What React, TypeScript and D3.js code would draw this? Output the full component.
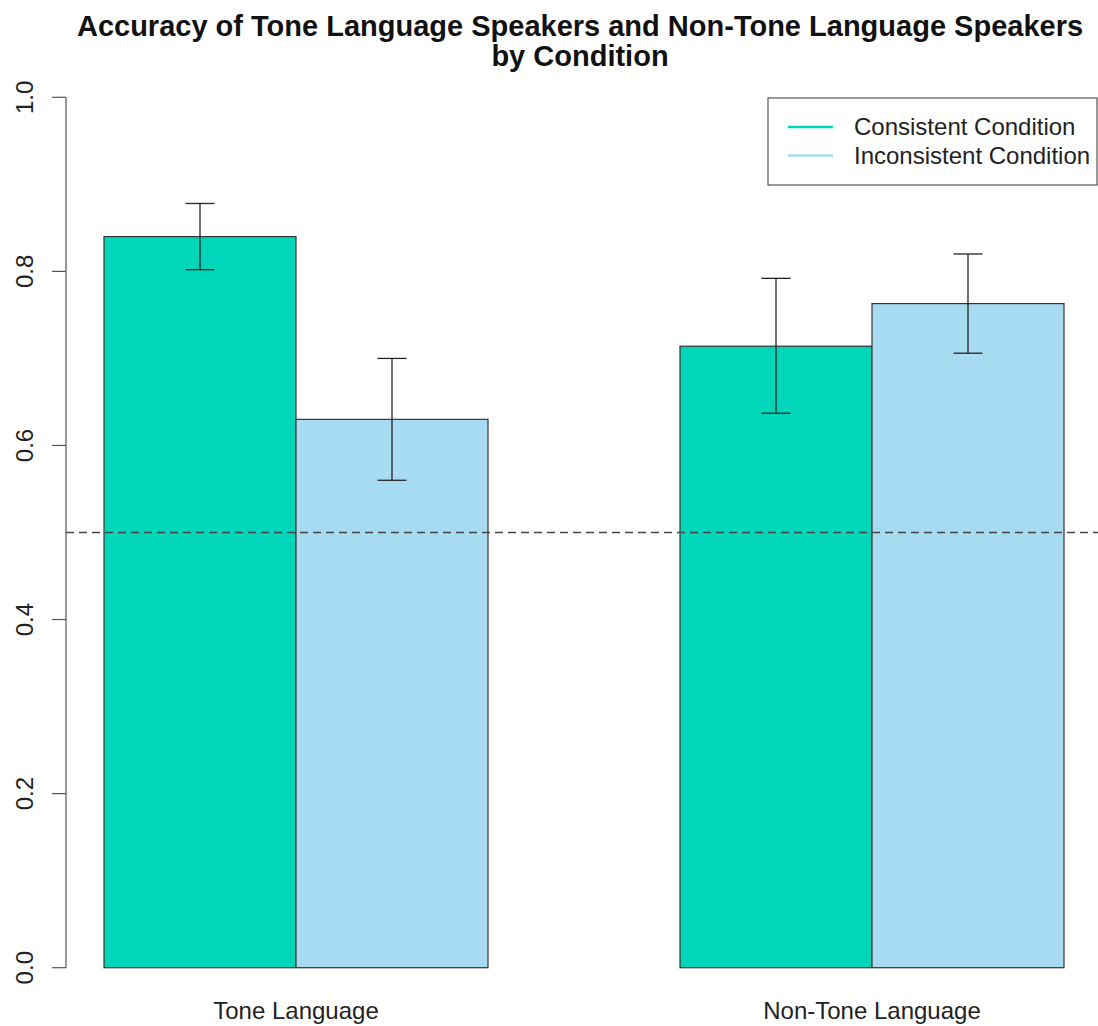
import React from "react";
import * as d3 from "d3";

const groups = ["Tone Language", "Non-Tone Language"];
const series = ["Consistent Condition", "Inconsistent Condition"];
const colors = ["#00D7BA", "#A7DBF1"];
const means = [
  [0.840, 0.630],
  [0.714, 0.763],
];
const lower = [
  [0.802, 0.560],
  [0.637, 0.706],
];
const upper = [
  [0.878, 0.700],
  [0.792, 0.820],
];
const yTicks = [0, 0.2, 0.4, 0.6, 0.8, 1.0];
const chance = 0.5;
const titleLines = [
  "Accuracy of Tone Language Speakers and Non-Tone Language Speakers",
  "by Condition",
];

const W = 1098;
const H = 1026;
const FONT = "'Liberation Sans', Arial, Helvetica, sans-serif";

export default function App() {
  const y = d3.scaleLinear().domain([0, 1]).range([967.7, 97.3]);
  const x0 = d3.scaleBand<string>().domain(groups).range([104, 1064]).paddingInner(1 / 3).paddingOuter(0);
  const x1 = d3.scaleBand<string>().domain(series).range([0, x0.bandwidth()]).padding(0);
  const axisX = 66;
  const cap = 14.5;

  return (
    <svg width={W} height={H} style={{ position: "absolute", left: 0, top: 0, background: "#fff" }} fontFamily={FONT}>
      <rect x={0} y={0} width={W} height={H} fill="#fff" />
      {titleLines.map((t, i) => (
        <text key={i} x={580} y={36 + i * 30} textAnchor="middle" fontWeight="bold" fontSize={29} fill="#111">
          {t}
        </text>
      ))}
      {/* bars */}
      {groups.map((g, gi) =>
        series.map((s, si) => {
          const bx = (x0(g) as number) + (x1(s) as number);
          const bw = x1.bandwidth();
          return (
            <rect
              key={g + s}
              x={bx}
              y={y(means[gi][si])}
              width={bw}
              height={y(0) - y(means[gi][si])}
              fill={colors[si]}
              stroke="#333"
              strokeWidth={1.2}
            />
          );
        })
      )}
      {/* chance line */}
      <line x1={axisX} x2={W} y1={y(chance)} y2={y(chance)} stroke="#444" strokeWidth={1.3} strokeDasharray="8,5" />
      {/* error bars */}
      {groups.map((g, gi) =>
        series.map((s, si) => {
          const cx = (x0(g) as number) + (x1(s) as number) + x1.bandwidth() / 2;
          return (
            <g key={"e" + g + s} stroke="#222" strokeWidth={1.3}>
              <line x1={cx} x2={cx} y1={y(upper[gi][si])} y2={y(lower[gi][si])} />
              <line x1={cx - cap} x2={cx + cap} y1={y(upper[gi][si])} y2={y(upper[gi][si])} />
              <line x1={cx - cap} x2={cx + cap} y1={y(lower[gi][si])} y2={y(lower[gi][si])} />
            </g>
          );
        })
      )}
      {/* y axis */}
      <line x1={axisX} x2={axisX} y1={y(0)} y2={y(1)} stroke="#555" strokeWidth={1.2} />
      {yTicks.map((t) => (
        <g key={t}>
          <line x1={axisX - 14} x2={axisX} y1={y(t)} y2={y(t)} stroke="#555" strokeWidth={1.2} />
          <text
            transform={`translate(33,${y(t)}) rotate(-90)`}
            textAnchor="middle"
            fontSize={24}
            fill="#222"
          >
            {t.toFixed(1)}
          </text>
        </g>
      ))}
      {/* group labels */}
      {groups.map((g) => (
        <text key={g} x={(x0(g) as number) + x0.bandwidth() / 2} y={1019} textAnchor="middle" fontSize={24} fill="#222">
          {g}
        </text>
      ))}
      {/* legend */}
      <rect x={768} y={98} width={329} height={87} fill="#fff" stroke="#555" strokeWidth={1.2} />
      {series.map((s, i) => (
        <g key={s}>
          <line x1={788} x2={833} y1={127 + i * 28.5} y2={127 + i * 28.5} stroke={colors[i]} strokeWidth={2.5} />
          <text x={854} y={135 + i * 28.5} fontSize={24} fill="#222">
            {s}
          </text>
        </g>
      ))}
    </svg>
  );
}
